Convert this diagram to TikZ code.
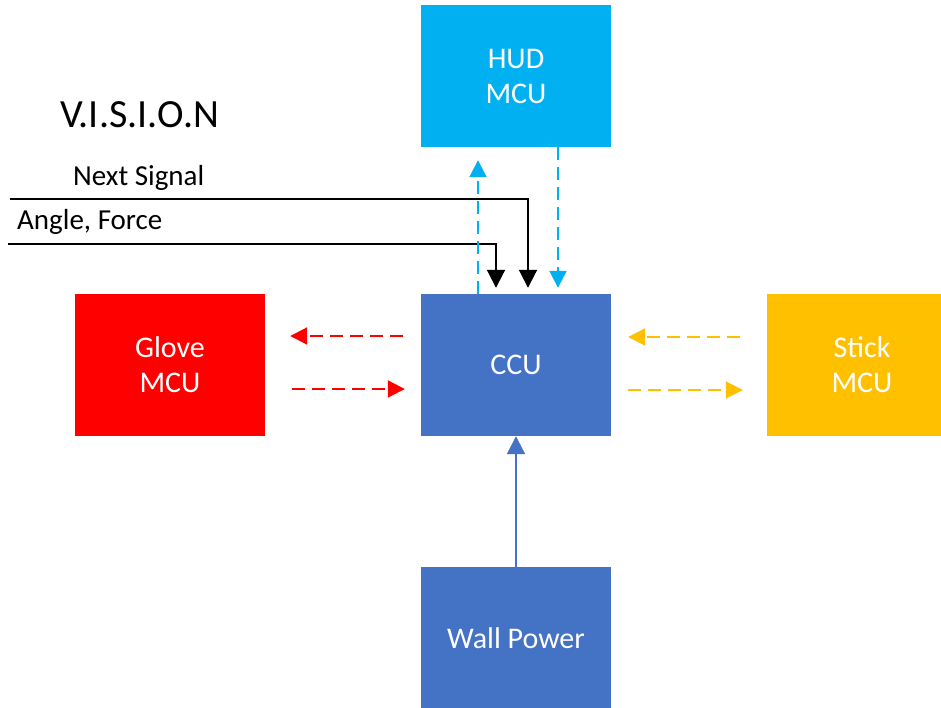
\documentclass[tikz,border=0pt]{standalone}
\usepackage{fontspec}
\setmainfont{Carlito}
\usetikzlibrary{arrows.meta}
\definecolor{hudcyan}{RGB}{0,176,240}
\definecolor{ccublue}{RGB}{68,114,196}
\definecolor{glovered}{RGB}{255,0,0}
\definecolor{stickgold}{RGB}{255,192,0}

\begin{document}
\begin{tikzpicture}[x=1pt, y=-1pt,
    unit/.style={rectangle, minimum width=190pt, minimum height=142pt, inner sep=0pt, align=center, text=white, font=\fontsize{30}{35}\selectfont},
    link/.style={line width=2pt, dash pattern=on 13pt off 7pt, -{Triangle[length=17pt, width=17pt]}},
    wire/.style={line width=2pt, -{Triangle[length=18pt, width=18pt]}},
    tag/.style={anchor=west, inner sep=0pt, font=\fontsize{29}{34}\selectfont},
]
\clip (0,0) rectangle (941,708);

% Title
\node[anchor=west, inner sep=0pt, font=\fontsize{40}{46}\selectfont] (title) at (60,115) {V.I.S.I.O.N};

% Units
\node[unit, fill=hudcyan] (hud) at (516,76) {HUD\\MCU};
\node[unit, fill=ccublue] (ccu) at (516,365) {CCU};
\node[unit, fill=glovered] (glove) at (170,365) {Glove\\MCU};
\node[unit, fill=stickgold] (stick) at (862,365) {Stick\\MCU};
\node[unit, fill=ccublue] (wall) at (516,638) {Wall Power};

% Inputs
\coordinate (nextin) at (10,199);
\coordinate (anglein) at (8,244);
\node[tag] (nextlbl) at (73,178) {Next Signal};
\node[tag] (anglelbl) at (17,222) {Angle, Force};
\draw[wire] (nextin) -| ([shift={(12,-6)}]ccu.north);
\draw[wire] (anglein) -| ([shift={(-20,-6)}]ccu.north);

% HUD links
\draw[link, hudcyan] ([shift={(-38,0)}]ccu.north) -- ([shift={(-38,13)}]hud.south);
\draw[link, hudcyan] ([shift={(42,0)}]hud.south) -- ([shift={(42,-6)}]ccu.north);

% Glove links
\draw[link, glovered] ([shift={(-18,-29)}]ccu.west) -- ([shift={(25,-29)}]glove.east);
\draw[link, glovered] ([shift={(27,24)}]glove.east) -- ([shift={(-16,24)}]ccu.west);

% Stick links
\draw[link, stickgold] ([shift={(-27,-28)}]stick.west) -- ([shift={(17,-28)}]ccu.east);
\draw[link, stickgold] ([shift={(17,25)}]ccu.east) -- ([shift={(-24,25)}]stick.west);

% Power
\draw[wire, ccublue] (wall) -- (ccu);

\end{tikzpicture}
\end{document}
